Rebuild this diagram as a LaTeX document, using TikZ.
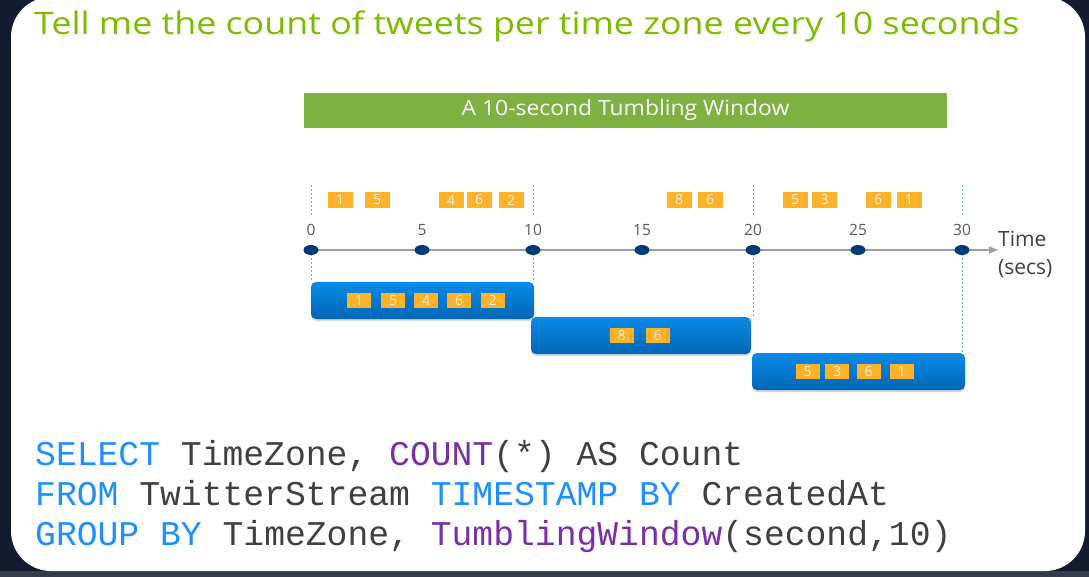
\documentclass[tikz,border=0pt]{standalone}
\usepackage{fontspec}
\setmainfont{Open Sans}
\setmonofont{Liberation Mono}
\usetikzlibrary{arrows.meta, calc, positioning, shadows, shapes.geometric}

\definecolor{framebg}{HTML}{131C2F}
\definecolor{framelow}{HTML}{353B49}
\definecolor{titlegreen}{HTML}{7CBB00}
\definecolor{bargreen}{HTML}{7DB142}
\definecolor{evtorange}{HTML}{FDB22A}
\definecolor{dotblue}{HTML}{013A7A}
\definecolor{winblue}{HTML}{0A8BE8}
\definecolor{winbluedk}{HTML}{0066B6}
\definecolor{guideblue}{HTML}{5FA8F0}
\definecolor{tickgray}{HTML}{5A5A5A}
\definecolor{kwblue}{HTML}{1E8FFF}
\definecolor{kwpurple}{HTML}{7A2FA6}
\definecolor{codegray}{HTML}{404040}

\begin{document}
\begin{tikzpicture}[x=1pt, y=-1pt,
  event/.style = {fill=evtorange, minimum width=25pt, minimum height=16.5pt, inner sep=0, text=white!85!evtorange, font=\fontsize{14}{14}\selectfont},
  inevent/.style = {event, minimum width=24pt, minimum height=15pt},
  window/.style = {rounded corners=5pt, top color=winblue, bottom color=winbluedk, minimum height=37pt, inner sep=0,
                   drop shadow={opacity=0.3, shadow xshift=0pt, shadow yshift=-2pt}},
  tickdot/.style = {ellipse, fill=dotblue, minimum width=15pt, minimum height=10pt, inner sep=0},
  ticklbl/.style = {text=tickgray, font=\fontsize{15.5}{15.5}\selectfont, anchor=base, inner sep=0},
  axislbl/.style = {text=codegray, font=\fontsize{21}{21}\selectfont, anchor=base west, inner sep=0},
  guide/.style = {guideblue, line width=0.8pt, dash pattern=on 2pt off 2pt},
  code/.style = {anchor=base west, inner sep=0, text=codegray, font=\ttfamily\fontsize{34.7}{40}\selectfont}]

  \useasboundingbox (0,0) rectangle (1089,577);
  \fill[framebg] (0,0) rectangle (1089,577);
  \fill[framelow] (0,571) rectangle (1089,577);
  \fill[white, rounded corners=40pt] (11,-3) rectangle (1085,571);

  \node[anchor=base west, inner sep=0, text=titlegreen, font=\fontsize{31}{31}\selectfont] (title) at (34,35)
    {\scalebox{1.155}[1]{Tell me the count of tweets per time zone every 10 seconds}};

  \node[fill=bargreen, minimum width=643pt, minimum height=35pt, inner sep=0, text=white,
        font=\fontsize{21}{21}\selectfont] (bar) at (625.5,110.5) {\scalebox{1.09}[1]{A 10-second Tumbling Window}};

  % time axis
  \foreach \t/\x in {0/311,5/422,10/533,15/642,20/753,25/858,30/962}
    \coordinate (t\t) at (\x,250);

  \node[window, minimum width=223pt] (w1) at (422.5,300.5) {};
  \node[window, minimum width=220pt] (w2) at (641,335.5) {};
  \node[window, minimum width=213pt] (w3) at (858.5,371.5) {};

  \foreach \t in {0,10,20,30}
    \draw[guide] (t\t) ++(0,-65) -- ++(0,32);
  \draw[guide] (t0) -- (t0 |- w1.north);
  \draw[guide] (t10) -- (t10 |- w1.north);
  \draw[guide] (t20) -- (t20 |- w2.north);
  \draw[guide] (t30) -- (t30 |- w3.north);

  \node[axislbl] (time) at (998,247) {Time};
  \node[axislbl] (secs) at (998,274) {(secs)};
  \draw[black!38, line width=1.5pt, -{Triangle[length=9pt, width=7pt]}] (t0) -- (time.west |- t0);

  \foreach \t in {0,5,...,30} {
    \node[tickdot] (d\t) at (t\t) {};
    \node[ticklbl] (l\t) at ($(t\t)+(0,-14)$) {\t};
  }

  % tweets as they arrive
  \foreach \x/\n [count=\i] in {340/1,377/5,451/4,479/6,511/2,679/8,710/6,795/5,824.5/3,878/6,909/1}
    \node[event] (e\i) at (\x,200) {\n};

  % tweets counted in each window
  \foreach \x/\n [count=\i] in {359/1,393/5,426/4,459/6,492.5/2}
    \node[inevent] (a\i) at (\x,300.5) {\n};
  \foreach \x/\n [count=\i] in {621.5/8,657.5/6}
    \node[inevent] (b\i) at (\x,335.5) {\n};
  \foreach \x/\n [count=\i] in {807.5/5,837/3,868.5/6,901.5/1}
    \node[inevent] (c\i) at (\x,371.5) {\n};

  \node[code] (sql1) at (35,465) {\textcolor{kwblue}{SELECT} TimeZone, \textcolor{kwpurple}{COUNT}(*) AS Count};
  \node[code] (sql2) at (35,505) {\textcolor{kwblue}{FROM} TwitterStream \textcolor{kwblue}{TIMESTAMP BY} CreatedAt};
  \node[code] (sql3) at (35,545) {\textcolor{kwblue}{GROUP BY} TimeZone, \textcolor{kwpurple}{TumblingWindow}(second,10)};
\end{tikzpicture}
\end{document}
